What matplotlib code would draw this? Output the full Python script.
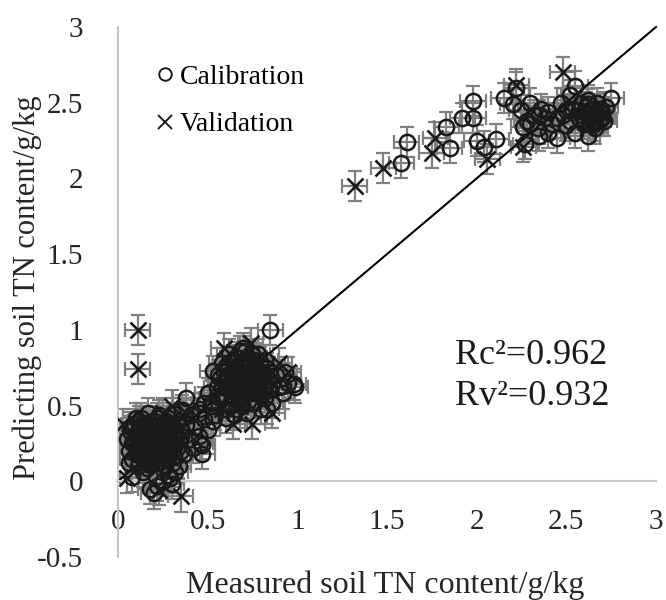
import matplotlib
matplotlib.use("Agg")
import matplotlib.pyplot as plt
from matplotlib.lines import Line2D

plt.rcParams['font.family'] = ['Liberation Serif', 'DejaVu Serif']

# Calibration set (measured, predicted)
cal_x = [0.05, 0.06, 0.07, 0.08, 0.08, 0.09, 0.10, 0.10, 0.11, 0.12, 0.12, 0.13, 0.13, 0.14, 0.14,
         0.15, 0.15, 0.16, 0.16, 0.17, 0.17, 0.18, 0.18, 0.19, 0.19, 0.20, 0.20, 0.21, 0.21, 0.22,
         0.22, 0.23, 0.23, 0.24, 0.24, 0.25, 0.25, 0.26, 0.26, 0.27, 0.28, 0.28, 0.29, 0.29, 0.30,
         0.31, 0.31, 0.32, 0.33, 0.34, 0.35, 0.36, 0.37, 0.38, 0.40, 0.41, 0.42, 0.43, 0.45, 0.46,
         0.47, 0.48, 0.50, 0.52, 0.54, 0.55, 0.18, 0.20, 0.22, 0.25, 0.28, 0.30, 0.32, 0.34, 0.08,
         0.46, 0.47, 0.38, 0.50,
         0.09, 0.10, 0.11, 0.11, 0.12, 0.12, 0.13, 0.13, 0.14, 0.14, 0.15, 0.15, 0.16, 0.16, 0.17,
         0.17, 0.18, 0.18, 0.19, 0.19, 0.20, 0.20, 0.21, 0.21, 0.22, 0.22, 0.23, 0.23, 0.24, 0.24,
         0.25, 0.25, 0.26, 0.26, 0.27, 0.27, 0.28, 0.28, 0.29, 0.30, 0.30, 0.31, 0.32, 0.33, 0.34,
         0.35, 0.36, 0.07, 0.06, 0.10,
         0.105, 0.115, 0.125, 0.135, 0.145, 0.155, 0.165, 0.175, 0.185, 0.195, 0.205, 0.215, 0.225,
         0.235, 0.245, 0.255, 0.265, 0.275, 0.285, 0.295, 0.305, 0.315, 0.325, 0.14, 0.18, 0.22,
         0.26, 0.20, 0.16, 0.24,
         0.55, 0.56, 0.57, 0.58, 0.59, 0.60, 0.61, 0.62, 0.62, 0.63, 0.64, 0.65, 0.65, 0.66, 0.67,
         0.68, 0.68, 0.69, 0.70, 0.71, 0.72, 0.72, 0.73, 0.74, 0.75, 0.76, 0.76, 0.77, 0.78, 0.79,
         0.80, 0.80, 0.81, 0.82, 0.83, 0.84, 0.85, 0.86, 0.88, 0.90, 0.92, 0.93, 0.95, 0.98, 0.85,
         0.53, 0.53, 0.60, 0.83, 0.50, 0.48, 0.52, 0.45, 0.92, 0.99,
         0.58, 0.59, 0.60, 0.61, 0.62, 0.63, 0.64, 0.64, 0.65, 0.66, 0.66, 0.67, 0.67, 0.68, 0.69,
         0.69, 0.70, 0.70, 0.71, 0.71, 0.72, 0.73, 0.73, 0.74, 0.74, 0.75, 0.75, 0.76, 0.77, 0.77,
         0.78, 0.78, 0.79, 0.80, 0.80, 0.81, 0.82, 0.82, 0.84, 0.57, 0.62, 0.66, 0.86, 0.70,
         0.61, 0.63, 0.65, 0.67, 0.69, 0.71, 0.73, 0.75, 0.77, 0.79, 0.64, 0.68, 0.72, 0.76, 0.66,
         0.70, 0.74, 0.78, 0.62, 0.80, 0.69, 0.74, 0.60, 0.81,
         1.58, 1.61, 1.83, 1.85, 1.92, 1.98, 1.98, 2.00, 2.04, 2.11, 2.15, 2.20, 2.22, 2.27, 2.25,
         2.28, 2.30, 2.32, 2.34, 2.36, 2.38, 2.40, 2.42, 2.45, 2.47, 2.48, 2.50, 2.52, 2.53, 2.55,
         2.55, 2.57, 2.58, 2.60, 2.60, 2.62, 2.62, 2.63, 2.64, 2.65, 2.66, 2.67, 2.68, 2.69, 2.70,
         2.72, 2.75, 2.35, 2.26,
         2.58, 2.60, 2.61, 2.62, 2.63, 2.64, 2.65, 2.66, 2.67, 2.68, 2.69, 2.70, 2.66, 2.71, 2.62,
         2.57, 2.40, 2.30, 2.35, 2.45, 2.50, 2.52]
cal_y = [0.28, 0.20, 0.33, 0.25, 0.15, 0.38, 0.30, 0.22, 0.10, 0.35, 0.27, 0.18, 0.42, 0.31, 0.06,
         0.24, 0.14, 0.37, 0.29, 0.20, 0.45, 0.33, 0.11, 0.26, 0.17, 0.40, 0.30, 0.22, 0.03, 0.35,
         0.13, 0.27, 0.44, 0.19, 0.32, 0.38, 0.08, 0.24, 0.15, 0.30, 0.42, 0.20, 0.35, 0.02, 0.26,
         0.45, 0.12, 0.33, 0.22, 0.40, 0.30, 0.47, 0.18, 0.37, 0.28, 0.44, 0.22, 0.36, 0.30, 0.48,
         0.24, 0.41, 0.34, 0.52, 0.44, 0.56, -0.05, -0.08, -0.03, 0.00, 0.04, -0.02, 0.06, 0.10, 0.03,
         0.25, 0.18, 0.55, 0.58,
         0.27, 0.18, 0.33, 0.24, 0.13, 0.40, 0.29, 0.22, 0.36, 0.15, 0.31, 0.20, 0.26, 0.09, 0.34,
         0.27, 0.22, 0.39, 0.30, 0.12, 0.25, 0.19, 0.36, 0.29, 0.23, 0.42, 0.32, 0.16, 0.26, 0.38,
         0.21, 0.30, 0.35, 0.10, 0.25, 0.40, 0.31, 0.15, 0.27, 0.36, 0.19, 0.30, 0.24, 0.38, 0.28,
         0.20, 0.33, 0.36, 0.12, 0.42,
         0.205, 0.295, 0.365, 0.255, 0.175, 0.335, 0.235, 0.305, 0.155, 0.355, 0.275, 0.195, 0.315,
         0.235, 0.345, 0.175, 0.285, 0.215, 0.375, 0.245, 0.325, 0.165, 0.285, 0.28, 0.26, 0.28,
         0.28, 0.33, 0.19, 0.22,
         0.62, 0.70, 0.55, 0.78, 0.66, 0.48, 0.74, 0.60, 0.84, 0.52, 0.69, 0.78, 0.44, 0.62, 0.56,
         0.72, 0.86, 0.50, 0.65, 0.80, 0.58, 0.45, 0.70, 0.62, 0.84, 0.52, 0.75, 0.66, 0.58, 0.79,
         0.48, 0.70, 0.62, 0.55, 0.75, 0.67, 0.60, 0.52, 0.70, 0.62, 0.58, 0.72, 0.65, 0.64, 1.00,
         0.73, 0.40, 0.42, 0.48, 0.58, 0.52, 0.50, 0.45, 0.63, 0.62,
         0.62, 0.72, 0.56, 0.66, 0.76, 0.60, 0.80, 0.55, 0.70, 0.64, 0.82, 0.74, 0.58, 0.66, 0.78,
         0.60, 0.70, 0.55, 0.64, 0.86, 0.75, 0.60, 0.80, 0.68, 0.52, 0.72, 0.62, 0.80, 0.58, 0.72,
         0.66, 0.84, 0.62, 0.76, 0.56, 0.68, 0.80, 0.62, 0.72, 0.68, 0.50, 0.48, 0.64, 0.88,
         0.70, 0.66, 0.62, 0.68, 0.72, 0.68, 0.66, 0.70, 0.64, 0.70, 0.74, 0.78, 0.82, 0.76, 0.58,
         0.60, 0.58, 0.60, 0.64, 0.66, 0.52, 0.78, 0.76, 0.72,
         2.10, 2.24, 2.34, 2.20, 2.40, 2.40, 2.51, 2.25, 2.21, 2.26, 2.53, 2.49, 2.60, 2.23, 2.45,
         2.38, 2.50, 2.42, 2.33, 2.46, 2.40, 2.30, 2.36, 2.27, 2.50, 2.42, 2.35, 2.55, 2.46, 2.61,
         2.30, 2.40, 2.50, 2.44, 2.36, 2.28, 2.52, 2.40, 2.46, 2.35, 2.42, 2.50, 2.38, 2.44, 2.40,
         2.47, 2.53, 2.28, 2.34,
         2.42, 2.38, 2.47, 2.43, 2.36, 2.40, 2.45, 2.38, 2.43, 2.46, 2.40, 2.44, 2.33, 2.38, 2.49,
         2.45, 2.44, 2.36, 2.42, 2.40, 2.45, 2.38]

# Validation set (measured, predicted)
val_x = [0.03, 0.05, 0.08, 0.12, 0.15, 0.18, 0.20, 0.22, 0.25, 0.27, 0.30, 0.32, 0.23, 0.35,
         0.11, 0.11, 0.38,
         0.59, 0.74, 0.64, 0.75, 0.65, 0.70, 0.78, 0.90, 0.95, 0.86, 0.58, 0.68,
         1.32, 1.48, 1.75, 1.77, 2.06, 2.22, 2.26, 2.48, 2.62]
val_y = [0.38, 0.02, 0.30, 0.18, 0.40, 0.28, 0.12, 0.35, 0.45, 0.22, 0.50, 0.30, -0.06, -0.10,
         1.00, 0.74, 0.45,
         0.88, 0.91, 0.38, 0.38, 0.60, 0.72, 0.65, 0.78, 0.72, 0.45, 0.48, 0.50,
         1.95, 2.07, 2.17, 2.27, 2.13, 2.62, 2.21, 2.70, 2.42]

x_err = 0.07
y_err = 0.10

x_ticks = [0, 0.5, 1, 1.5, 2, 2.5, 3]
x_tick_labels = ["0", "0.5", "1", "1.5", "2", "2.5", "3"]
y_ticks = [-0.5, 0, 0.5, 1, 1.5, 2, 2.5, 3]
y_tick_labels = ["-0.5", "0", "0.5", "1", "1.5", "2", "2.5", "3"]

fig = plt.figure(figsize=(6.66, 6.0), dpi=100)
ax = fig.add_axes([0.177, 0.0717, 0.808, 0.8833])
ax.set_xlim(0, 3)
ax.set_ylim(-0.5, 3)

grey = '#808080'
ax.errorbar(cal_x, cal_y, xerr=x_err, yerr=y_err, fmt='none', ecolor=grey,
            elinewidth=1.6, capsize=5, capthick=1.6, zorder=1)
ax.errorbar(val_x, val_y, xerr=x_err, yerr=y_err, fmt='none', ecolor=grey,
            elinewidth=1.6, capsize=5, capthick=1.6, zorder=1)

ax.plot([0, 3], [0, 3], color='black', lw=1.5, zorder=2, clip_on=False)

ax.plot(cal_x, cal_y, linestyle='none', marker='o', markersize=11,
        markerfacecolor='none', markeredgecolor='#1a1a1a', markeredgewidth=1.8, zorder=3)
ax.plot(val_x, val_y, linestyle='none', marker='x', markersize=11,
        markeredgecolor='#1a1a1a', markeredgewidth=1.9, zorder=4)

# spines
for s in ['top', 'right']:
    ax.spines[s].set_visible(False)
ax.spines['left'].set_color('#c8c8c8')
ax.spines['left'].set_linewidth(1.5)
ax.spines['bottom'].set_color('#c8c8c8')
ax.spines['bottom'].set_linewidth(1.5)
ax.spines['bottom'].set_position(('data', 0))

ax.set_xticks(x_ticks)
ax.set_xticklabels(x_tick_labels)
ax.set_yticks(y_ticks)
ax.set_yticklabels(y_tick_labels)
ax.tick_params(axis='x', length=0, pad=20, labelsize=21, labelcolor='#262626')
ax.tick_params(axis='y', length=0, pad=25, labelsize=21, labelcolor='#262626')

ax.set_xlabel("Measured soil TN content/g/kg", fontsize=23, color='#262626')
ax.xaxis.label.set_va('center')
ax.xaxis.set_label_coords(0.496, -0.054)
ax.set_ylabel("Predicting soil TN content/g/kg", fontsize=22, color='#262626')
ax.yaxis.label.set_va('center')
ax.yaxis.set_label_coords(-0.169, 0.509)

handles = [Line2D([], [], linestyle='none', marker='o', markersize=9, markerfacecolor='none',
                  markeredgecolor='#1a1a1a', markeredgewidth=1.4),
           Line2D([], [], linestyle='none', marker='x', markersize=10,
                  markeredgecolor='#1a1a1a', markeredgewidth=1.4)]
ax.legend(handles, ["Calibration", "Validation"], loc='upper left',
          bbox_to_anchor=(0.046, 0.955), frameon=False, fontsize=20,
          handlelength=0.6, handletextpad=0.25, labelspacing=0.78, borderpad=0)

ax.text(0.626, 0.38, "Rc\u00b2=0.962", transform=ax.transAxes, fontsize=26,
        color='#1a1a1a', va='center')
ax.text(0.626, 0.303, "Rv\u00b2=0.932", transform=ax.transAxes, fontsize=26,
        color='#1a1a1a', va='center')

fig.savefig("out.png", dpi=100)
